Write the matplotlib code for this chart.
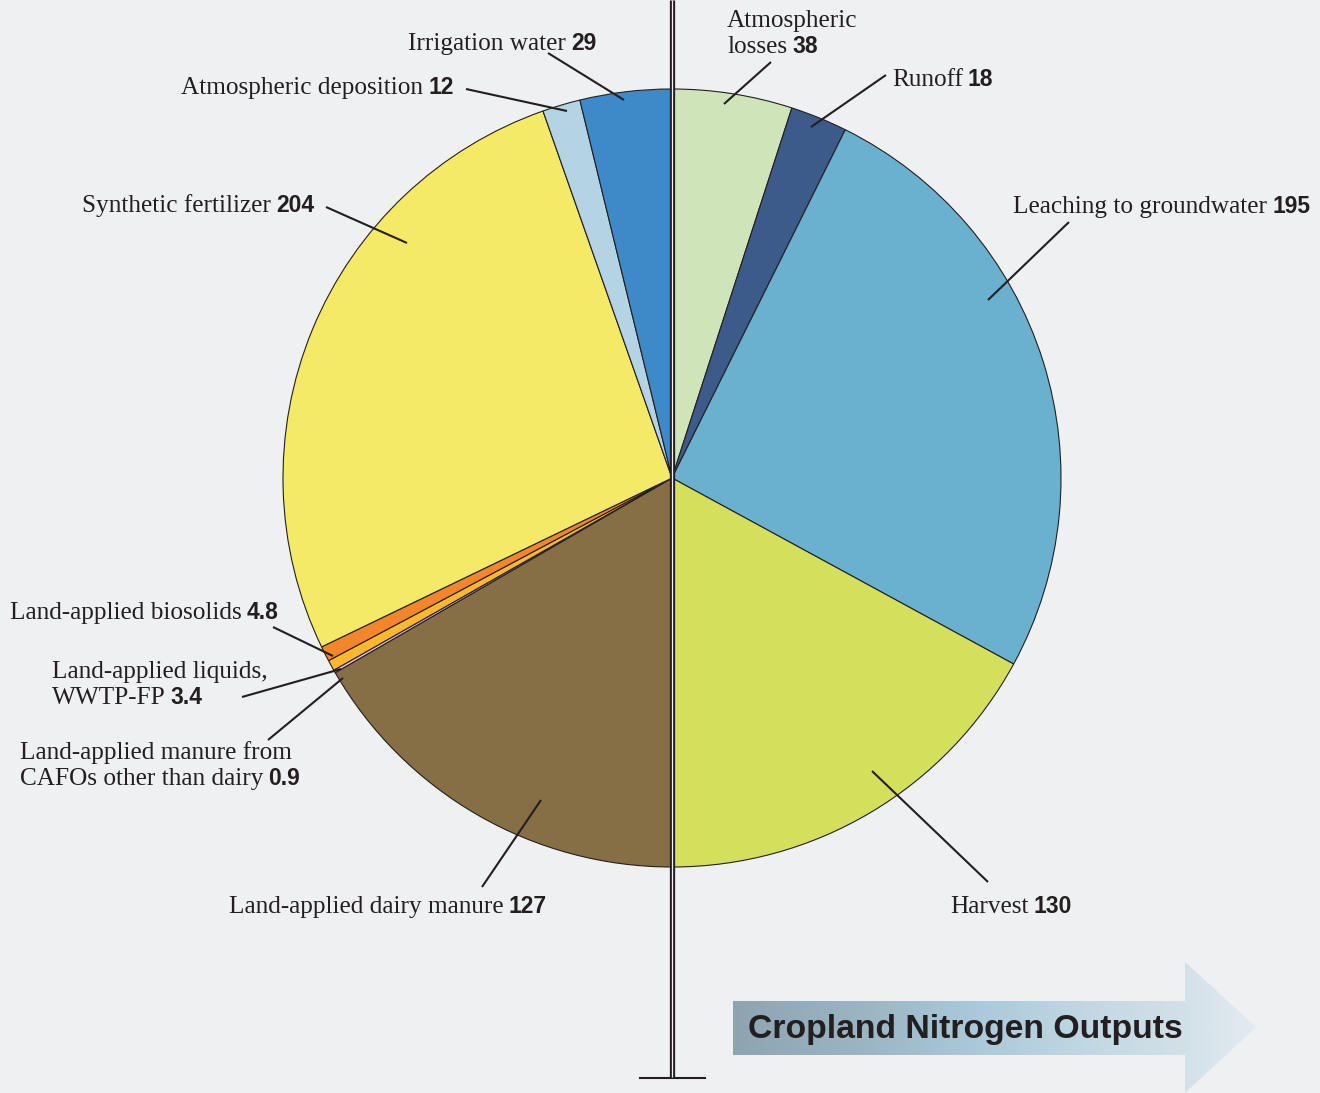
import matplotlib
matplotlib.use('Agg')
import matplotlib.pyplot as plt
import numpy as np
from matplotlib import font_manager as fm
from matplotlib.patches import Polygon
from matplotlib.colors import LinearSegmentedColormap

W, H = 1320, 1093
BG = '#eff0f2'
INK = '#231f20'

# ---------------- data ----------------
categories = ['Atmospheric losses', 'Runoff', 'Leaching to groundwater', 'Harvest',
              'Land-applied dairy manure',
              'Land-applied manure from CAFOs other than dairy',
              'Land-applied liquids, WWTP-FP', 'Land-applied biosolids',
              'Synthetic fertilizer', 'Atmospheric deposition', 'Irrigation water']
values = [38, 18, 195, 130, 127, 0.9, 3.4, 4.8, 204, 12, 29]
value_labels = ['38', '18', '195', '130', '127', '0.9', '3.4', '4.8', '204', '12', '29']
label_texts = ['Atmospheric\nlosses', 'Runoff', 'Leaching to groundwater', 'Harvest',
               'Land-applied dairy manure',
               'Land-applied manure from\nCAFOs other than dairy',
               'Land-applied liquids,\nWWTP-FP', 'Land-applied biosolids',
               'Synthetic fertilizer', 'Atmospheric deposition', 'Irrigation water']
colors = ['#cfe5b9', '#3c5a8a', '#6ab1cf', '#d4df5c', '#866e45', '#f0bcd8',
          '#fdb92b', '#f3852b', '#f4ea66', '#b4d3e3', '#3e8ac8']
title = 'Cropland Nitrogen Outputs'

# ---------------- layout (image pixel coords, y from top) ----------------
center = (672, 478)
radius = 389
# label left x, first baseline y
label_pos = [(727, 27), (892, 86), (1013, 213), (950, 913), (229, 913),
             (20, 759), (52, 678), (10, 619), (82, 212), (181, 94), (408, 50)]
leaders = [((771, 62), (724, 104)), ((886, 75), (811, 127)),
           ((1069, 222), (988, 300)), ((988, 882), (872, 771)),
           ((482, 887), (541, 800)), ((268, 740), (343, 678)),
           ((242, 697), (341, 669)), ((273, 627), (333, 656)),
           ((326, 207), (407, 243)), ((466, 89), (567, 111)),
           ((548, 53), (624, 100))]
LINE_H = 26


def pick(cands):
    names = {f.name for f in fm.fontManager.ttflist}
    out = [c for c in cands if c in names]
    return out + ['DejaVu Sans']


SERIF = pick(['Liberation Serif', 'DejaVu Serif'])
NUMF = pick(['Liberation Sans Narrow', 'Liberation Sans'])
SANS = pick(['Liberation Sans'])

fig = plt.figure(figsize=(W / 100, H / 100), dpi=100, facecolor=BG)
ax = fig.add_axes([0, 0, 1, 1])
ax.set_facecolor(BG)


def Y(y):
    return H - y


ax.pie(values, colors=colors, startangle=90, counterclock=False,
       radius=radius, center=(center[0], Y(center[1])), frame=False,
       wedgeprops=dict(edgecolor=INK, linewidth=0.8))
ax.set_xlim(0, W)
ax.set_ylim(0, H)
ax.set_aspect('auto')
ax.axis('off')

# vertical double divider
ax.plot([center[0], center[0]], [Y(0), Y(1078)], color=INK, lw=3.8,
        solid_capstyle='butt', zorder=5)
ax.plot([center[0], center[0]], [Y(0), Y(1077)], color='#f2f2f2', lw=0.9,
        solid_capstyle='butt', zorder=6)
ax.plot([640, 705], [Y(1078), Y(1078)], color=INK, lw=1.5, zorder=5)

# leader lines
for (p0, p1) in leaders:
    ax.plot([p0[0], p1[0]], [Y(p0[1]), Y(p1[1])], color=INK, lw=1.5,
            solid_capstyle='butt', zorder=7)

# labels
fig.canvas.draw()
renderer = fig.canvas.get_renderer()
FS_LAB = 18.2
FS_NUM = 16.5
for (x, y), txt, num in zip(label_pos, label_texts, value_labels):
    lines = txt.split('\n')
    for i, line in enumerate(lines):
        yy = y + i * LINE_H
        t = ax.text(x, Y(yy), line, fontsize=FS_LAB, family=SERIF, color=INK,
                    ha='left', va='baseline', zorder=8)
        if i == len(lines) - 1:
            bb = t.get_window_extent(renderer)
            ax.text(bb.x1 + 5, Y(yy), num, fontsize=FS_NUM, family=NUMF,
                    weight='bold', color=INK, ha='left', va='baseline', zorder=8)

# gradient arrow
verts = [(733, 1001), (1185, 1001), (1185, 962), (1256, 1027), (1185, 1093),
         (1185, 1055), (733, 1055)]
poly = Polygon([(vx, Y(vy)) for vx, vy in verts], closed=True,
               facecolor='none', edgecolor='none')
ax.add_patch(poly)
cmap = LinearSegmentedColormap.from_list('arr', [
    (0.0, '#8ea4b1'), (0.25, '#9bb5c3'), (0.45, '#a8c8d9'),
    (0.72, '#c6dae5'), (0.86, '#d2e0e8'), (1.0, '#e3ebf0')])
grad = np.linspace(0, 1, 512).reshape(1, -1)
im = ax.imshow(grad, extent=(733, 1256, Y(1093), Y(962)), cmap=cmap,
               aspect='auto', zorder=3, interpolation='bilinear')
im.set_clip_path(poly)
ax.set_xlim(0, W)
ax.set_ylim(0, H)
ax.text(748, Y(1038), title, fontsize=24.3, family=SANS, weight='bold',
        color=INK, ha='left', va='baseline', zorder=8)

fig.savefig('out.png', dpi=100, facecolor=BG)
